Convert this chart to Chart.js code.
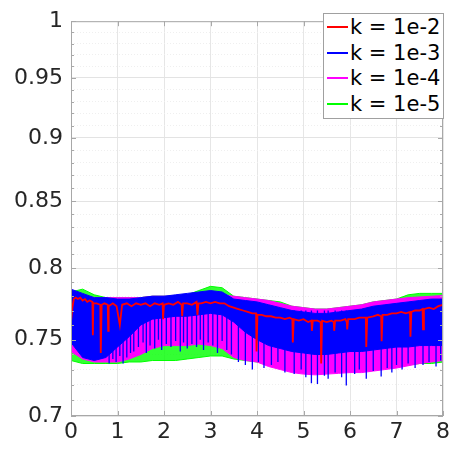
<!DOCTYPE html>
<html>
<head>
<meta charset="utf-8">
<script src="https://cdn.jsdelivr.net/npm/chart.js@4.4.1/dist/chart.umd.min.js"></script>
<style>
  body { margin: 0; background: #fff; }
  #wrap { position: relative; width: 453px; height: 452px; }
  #legend {
    position: absolute; left: 323px; top: 13px; width: 119px; height: 104px;
    background: #fff; border: 1px solid #a0a0a0;
    font-family: "DejaVu Sans", sans-serif; font-size: 21px; color: #000;
  }
  #legend .row { display: flex; align-items: center; height: 24.5px; margin-top: 1px; }
  #legend .sw { width: 21px; height: 0; border-top: 2px solid; margin: 0 2px 0 3px; }
</style>
</head>
<body>
<div id="wrap">
  <canvas id="grafico" width="453" height="452"></canvas>
  <div id="legend"></div>
</div>
<script>
// ===============================
//   DADOS
// ===============================
const seriesLabels = ["k = 1e-2", "k = 1e-3", "k = 1e-4", "k = 1e-5"];
const seriesColors = ["#ff0000", "#0000ff", "#ff00ff", "#00ff00"];

const xTicks = [0, 1, 2, 3, 4, 5, 6, 7, 8];
const yTickLabels = [0.7, 0.75, 0.8, 0.85, 0.9, 0.95, 1];

// envelopes of the dense noisy bands, every 0.25 on x
const xBand = [0, 0.25, 0.5, 0.75, 1, 1.25, 1.5, 1.75, 2, 2.25, 2.5, 2.75, 3, 3.25, 3.5, 3.75,
               4, 4.25, 4.5, 4.75, 5, 5.25, 5.5, 5.75, 6, 6.25, 6.5, 6.75, 7, 7.25, 7.5, 7.75, 8];

const blueTop = [0.785, 0.782, 0.779, 0.779, 0.778, 0.778, 0.779, 0.780, 0.780, 0.781, 0.782, 0.783, 0.784, 0.783, 0.778, 0.777,
                 0.776, 0.774, 0.772, 0.770, 0.769, 0.768, 0.768, 0.769, 0.770, 0.771, 0.773, 0.774, 0.775, 0.776, 0.777, 0.778, 0.778];
const blueBottom = [0.748, 0.738, 0.736, 0.738, 0.745, 0.752, 0.760, 0.764, 0.765, 0.766, 0.766, 0.767, 0.768, 0.767, 0.762, 0.755,
                    0.750, 0.746, 0.744, 0.742, 0.741, 0.740, 0.740, 0.741, 0.742, 0.742, 0.743, 0.744, 0.745, 0.745, 0.746, 0.746, 0.746];

const magentaTop = [0.784, 0.781, 0.779, 0.779, 0.779, 0.779, 0.779, 0.780, 0.780, 0.780, 0.781, 0.781, 0.782, 0.781, 0.780, 0.779,
                    0.778, 0.777, 0.775, 0.773, 0.772, 0.771, 0.771, 0.772, 0.773, 0.774, 0.776, 0.777, 0.778, 0.779, 0.7795, 0.780, 0.7805];
const magentaBottom = [0.742, 0.737, 0.735, 0.735, 0.735, 0.737, 0.740, 0.744, 0.746, 0.746, 0.746, 0.747, 0.746, 0.744, 0.738, 0.736,
                       0.735, 0.732, 0.730, 0.728, 0.727, 0.7265, 0.727, 0.7275, 0.728, 0.728, 0.729, 0.730, 0.731, 0.7325, 0.734, 0.735, 0.736];

const greenTop = [0.783, 0.785, 0.781, 0.779, 0.779, 0.779, 0.779, 0.780, 0.780, 0.780, 0.781, 0.784, 0.787, 0.786, 0.780, 0.779,
                  0.778, 0.777, 0.776, 0.773, 0.772, 0.771, 0.771, 0.772, 0.773, 0.774, 0.776, 0.777, 0.778, 0.781, 0.782, 0.782, 0.782];
const greenBottom = [0.736, 0.734, 0.734, 0.734, 0.734, 0.735, 0.735, 0.736, 0.736, 0.736, 0.737, 0.738, 0.739, 0.739, 0.737, 0.736,
                     0.735, 0.733, 0.731, 0.729, 0.728, 0.7275, 0.728, 0.7285, 0.729, 0.729, 0.730, 0.731, 0.732, 0.733, 0.734, 0.734, 0.735];

// downward spikes of k = 1e-3 that leave the dense band
const blueSpikeX = [0.82, 0.9, 0.97, 1.05, 1.12, 1.2, 1.28,
                    1.35, 1.45, 1.55, 1.62, 1.7, 1.8, 1.88, 1.95, 2.05, 2.15, 2.25, 2.35, 2.42, 2.5, 2.6, 2.7, 2.78, 2.85, 2.95, 3.05, 3.15, 3.25, 3.35, 3.45,
                    3.6, 3.75, 3.9, 4.03, 4.15, 4.31, 4.45, 4.6, 4.8, 4.95, 5.05, 5.17, 5.3, 5.45, 5.53, 5.68, 5.82, 5.92, 6.1, 6.2, 6.35, 6.5, 6.67, 6.8, 6.9, 7.0, 7.12, 7.25, 7.4, 7.57, 7.7, 7.85, 7.95];
const blueSpikeLow = [0.734, 0.737, 0.735, 0.739, 0.734, 0.738, 0.741,
                      0.742, 0.745, 0.748, 0.741, 0.746, 0.744, 0.750, 0.743, 0.747, 0.745, 0.749, 0.742, 0.748, 0.744, 0.747, 0.745, 0.750, 0.743, 0.748, 0.746, 0.741, 0.749, 0.743, 0.740,
                      0.735, 0.733, 0.730, 0.735, 0.731, 0.733, 0.735, 0.728, 0.727, 0.730, 0.725, 0.721, 0.7205, 0.726, 0.724, 0.728, 0.725, 0.7195, 0.727, 0.730, 0.724, 0.729, 0.7255, 0.731, 0.728, 0.733, 0.730, 0.734, 0.731, 0.733, 0.735, 0.732, 0.736];

// k = 1e-2 line
const redX = [0, 0.03, 0.06, 0.1, 0.15, 0.2, 0.25, 0.3, 0.35, 0.4, 0.46, 0.47, 0.48, 0.55, 0.63, 0.64, 0.66, 0.72, 0.79, 0.8, 0.81, 0.9, 0.98, 1.05, 1.1,
              1.2, 1.3, 1.4, 1.5, 1.6, 1.7, 1.8, 1.9, 1.97, 1.98, 2.0, 2.1, 2.2, 2.3, 2.38, 2.39, 2.41, 2.5, 2.6, 2.7, 2.72, 2.74, 2.8, 2.9, 3.0,
              3.1, 3.2, 3.3, 3.4, 3.5, 3.6, 3.7, 3.8, 3.9, 3.98, 3.99, 4.01, 4.1, 4.2, 4.3, 4.4, 4.5, 4.6, 4.7, 4.76, 4.77, 4.79, 4.9, 5.0,
              5.1, 5.17, 5.18, 5.2, 5.3, 5.37, 5.38, 5.4, 5.5, 5.6, 5.65, 5.66, 5.68, 5.8, 5.9, 5.93, 5.94, 5.96, 6.1, 6.2, 6.34, 6.35, 6.37,
              6.5, 6.6, 6.67, 6.68, 6.7, 6.8, 6.9, 7.0, 7.1, 7.2, 7.29, 7.3, 7.32, 7.4, 7.5, 7.56, 7.57, 7.59, 7.7, 7.8, 7.9, 8.0];
const redY = [0.762, 0.772, 0.778, 0.779, 0.778, 0.779, 0.777, 0.778, 0.776, 0.777, 0.776, 0.753, 0.775, 0.775, 0.774, 0.741, 0.774, 0.775, 0.774, 0.756, 0.773, 0.775, 0.773, 0.760, 0.774,
              0.775, 0.773, 0.775, 0.774, 0.775, 0.773, 0.775, 0.774, 0.775, 0.764, 0.774, 0.775, 0.774, 0.776, 0.774, 0.766, 0.775, 0.775, 0.774, 0.776, 0.767, 0.775, 0.775, 0.776, 0.775,
              0.776, 0.775, 0.775, 0.773, 0.772, 0.771, 0.770, 0.769, 0.768, 0.768, 0.742, 0.767, 0.767, 0.766, 0.766, 0.765, 0.765, 0.764, 0.765, 0.764, 0.748, 0.764, 0.763, 0.764,
              0.762, 0.763, 0.756, 0.763, 0.763, 0.762, 0.734, 0.763, 0.762, 0.763, 0.762, 0.756, 0.763, 0.763, 0.764, 0.762, 0.757, 0.764, 0.764, 0.765, 0.765, 0.745, 0.765,
              0.766, 0.767, 0.766, 0.749, 0.767, 0.767, 0.768, 0.768, 0.769, 0.768, 0.769, 0.752, 0.769, 0.770, 0.770, 0.771, 0.757, 0.771, 0.772, 0.771, 0.773, 0.774];

// ===============================
//   MONTAR DATASETS
// ===============================
const pts = (xs, ys) => xs.map((x, i) => ({ x: x, y: ys[i] }));

const spikes = [];
blueSpikeX.forEach((x, i) => {
  spikes.push({ x: x, y: 0.77 });
  spikes.push({ x: x, y: blueSpikeLow[i] });
  spikes.push({ x: x, y: null });
});

const band = (label, color, top, bottom, fillColor) => ([
  { label: label, data: pts(xBand, top), borderColor: color, backgroundColor: fillColor,
    borderWidth: 1, pointRadius: 0, fill: "+1" },
  { label: "", data: pts(xBand, bottom), borderColor: color, borderWidth: 1, pointRadius: 0, fill: false }
]);

const datasets = [
  { label: seriesLabels[0], data: pts(redX, redY), borderColor: seriesColors[0], borderWidth: 1.8, pointRadius: 0, fill: false },
  { label: "", data: spikes, borderColor: seriesColors[1], borderWidth: 1.3, pointRadius: 0, fill: false, spanGaps: false },
  ...band(seriesLabels[1], seriesColors[1], blueTop, blueBottom, "#0000ff"),
  ...band(seriesLabels[2], seriesColors[2], magentaTop, magentaBottom, "#ff00ff"),
  ...band(seriesLabels[3], seriesColors[3], greenTop, greenBottom, "rgba(0,255,0,0.8)")
];

// box + inward ticks like the original axes
const caixa = {
  id: "caixa",
  afterDraw(chart) {
    const { ctx, chartArea: a, scales } = chart;
    ctx.save();
    ctx.strokeStyle = "#a8a8a8";
    ctx.lineWidth = 1;
    ctx.strokeRect(a.left + 0.5, a.top + 0.5, a.right - a.left - 1, a.bottom - a.top - 1);
    ctx.beginPath();
    scales.y.ticks.forEach(t => {
      const py = Math.round(scales.y.getPixelForValue(t.value)) + 0.5;
      const len = yTickLabels.some(v => Math.abs(v - t.value) < 1e-6) ? 5 : 3;
      ctx.moveTo(a.left, py); ctx.lineTo(a.left + len, py);
      ctx.moveTo(a.right, py); ctx.lineTo(a.right - len, py);
    });
    scales.x.ticks.forEach(t => {
      const px = Math.round(scales.x.getPixelForValue(t.value)) + 0.5;
      ctx.moveTo(px, a.bottom); ctx.lineTo(px, a.bottom - 5);
      ctx.moveTo(px, a.top); ctx.lineTo(px, a.top + 5);
    });
    ctx.stroke();
    ctx.restore();
  }
};

const isMajor = v => yTickLabels.some(m => Math.abs(m - v) < 1e-6);
const fonte = { family: "DejaVu Sans", size: 22 };

new Chart(document.getElementById("grafico"), {
  type: "line",
  data: { datasets: datasets },
  options: {
    responsive: false,
    animation: false,
    layout: { padding: { top: 13, right: 9, left: 0, bottom: 0 } },
    plugins: { legend: { display: false }, tooltip: { enabled: false } },
    scales: {
      x: {
        type: "linear", min: 0, max: 8,
        afterBuildTicks: s => { s.ticks = xTicks.map(v => ({ value: v })); },
        afterFit: s => { s.height = 36; },
        ticks: { font: fonte, color: "#262626", padding: 3, maxRotation: 0, autoSkip: false,
                 callback: v => String(v) },
        grid: { color: "#e6e6e6", drawTicks: false },
        border: { display: false }
      },
      y: {
        type: "logarithmic", min: 0.7, max: 1,
        afterBuildTicks: s => {
          const t = [];
          for (let i = 70; i <= 100; i++) t.push({ value: i / 100 });
          s.ticks = t;
        },
        afterFit: s => { s.width = 71; },
        ticks: { font: fonte, color: "#262626", padding: 8, autoSkip: false,
                 callback: v => isMajor(v) ? String(Number(v.toFixed(2))) : "" },
        grid: {
          drawTicks: false,
          color: c => isMajor(c.tick.value) ? "#e3e3e3" : "#efefef"
        },
        border: { display: false, dash: c => (c.tick && isMajor(c.tick.value)) ? [] : [1, 2] }
      }
    }
  },
  plugins: [caixa]
});

// ===============================
//   LEGENDA
// ===============================
document.getElementById("legend").innerHTML = seriesLabels.map((l, i) =>
  `<div class="row"><span class="sw" style="border-color:${seriesColors[i]}"></span><span>${l}</span></div>`
).join("");
</script>
</body>
</html>
